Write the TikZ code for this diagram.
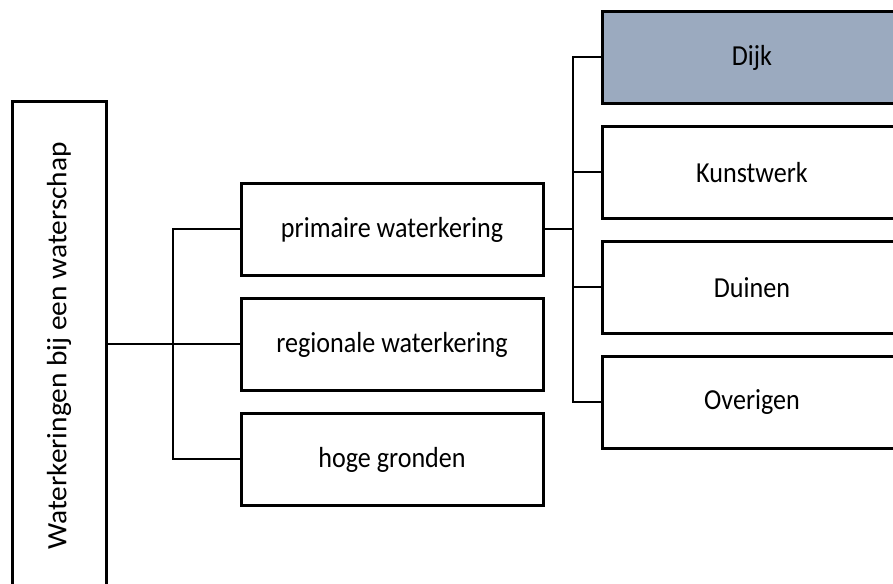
\documentclass[tikz,border=0pt]{standalone}
\usepackage{fontspec}
\setmainfont{Carlito}[FakeStretch=0.9]
\newfontfamily\hoofdfont{Carlito}[FakeStretch=1.05]
\usepackage{xcolor}
\usetikzlibrary{positioning}

\definecolor{dijkblauw}{RGB}{155,170,191}

\begin{document}
\begin{tikzpicture}[x=1pt,y=1pt,node distance=20pt,
    blok/.style={draw, rectangle, line width=3pt, minimum height=92pt,
      font=\fontsize{29}{34}\selectfont},
    lijn/.style={line width=2pt}]
    \useasboundingbox (0,0) rectangle (893,583);

    \node (hoofd) [blok, rotate=90, minimum width=488pt, minimum height=94pt,
      font=\hoofdfont\fontsize{28}{32}\selectfont] at (59,237) {Waterkeringen bij een waterschap};

    \node (primair) [blok, minimum width=302pt] at (392,353.5) {primaire waterkering};
    \node (regionaal) [blok, minimum width=302pt, below=of primair] {regionale waterkering};
    \node (hoog) [blok, minimum width=302pt, below=of regionaal] {hoge gronden};

    \node (dijk) [blok, minimum width=300pt, fill=dijkblauw] at (752,525.5) {Dijk};
    \node (kunst) [blok, minimum width=300pt, below=of dijk] {Kunstwerk};
    \node (duin) [blok, minimum width=300pt, below=of kunst] {Duinen};
    \node (overig) [blok, minimum width=300pt, below=of duin] {Overigen};

    \coordinate (busL) at (173,0);
    \coordinate (busR) at (573,0);

    \draw [lijn] (hoofd.south |- regionaal.west) -- (regionaal.west);
    \draw [lijn] (primair.west) -- (primair.west -| busL) -- (hoog.west -| busL) -- (hoog.west);

    \draw [lijn] (primair.east) -- (primair.east -| busR);
    \draw [lijn] (dijk.west) -- (dijk.west -| busR) -- (overig.west -| busR) -- (overig.west);
    \draw [lijn] (kunst.west) -- (kunst.west -| busR);
    \draw [lijn] (duin.west) -- (duin.west -| busR);
  \end{tikzpicture}
\end{document}
